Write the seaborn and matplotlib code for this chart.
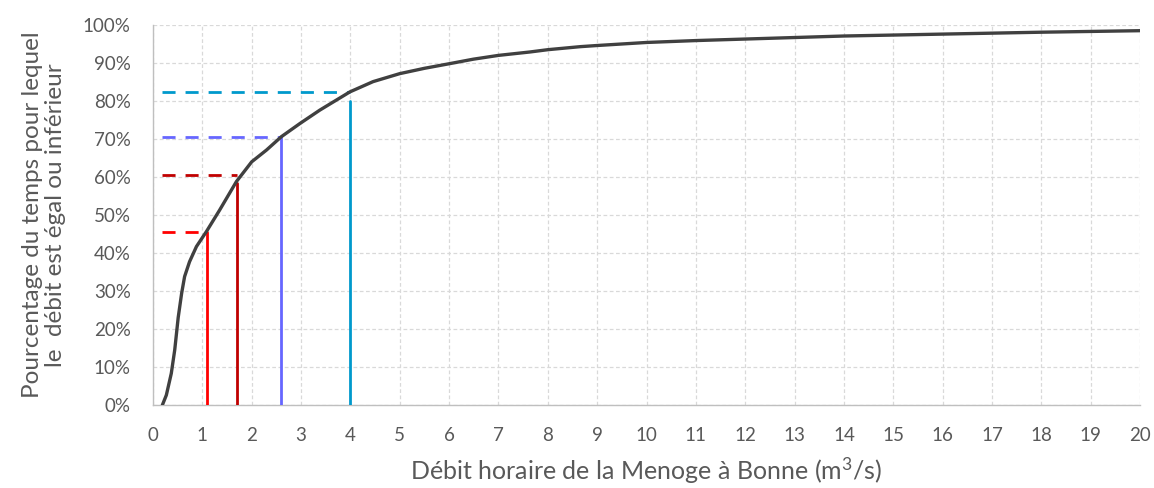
import matplotlib
matplotlib.use("Agg")
import matplotlib.pyplot as plt
import matplotlib.ticker as mticker
import numpy as np
import pandas as pd
import seaborn as sns

# Courbe des débits classés (débit en m³/s, pourcentage du temps)
debit = [0.19, 0.27, 0.37, 0.44, 0.51, 0.58, 0.64, 0.74, 0.88, 1.08, 1.35, 1.69,
         2.0, 2.30, 2.60, 2.98, 3.38, 3.99, 4.46, 5.0, 5.5, 6.0, 6.49, 7.0, 7.64,
         8.0, 8.66, 9.0, 10.0, 11.0, 12.0, 13.0, 14.0, 16.0, 18.0, 20.0]
pourcentage = [0.0, 2.6, 8.3, 14.5, 23.0, 29.4, 33.8, 37.7, 41.7, 45.6, 51.3, 58.8,
               64.0, 67.1, 70.6, 74.1, 77.6, 82.4, 85.1, 87.2, 88.6, 89.8, 91.0, 92.0, 92.9,
               93.5, 94.3, 94.6, 95.4, 95.9, 96.3, 96.7, 97.1, 97.6, 98.1, 98.5]

# Débits de référence avec leurs repères
repere_debit = [1.1, 1.7, 2.6, 4.0]
repere_pct_h = [45.6, 60.5, 70.5, 82.3]
repere_pct_v = [45.6, 58.5, 70.5, 80.0]
repere_couleur = ["#ff0000", "#c00000", "#6666ff", "#0099cc"]
debut_tirets = 0.18

x_ticks = list(range(0, 21))
y_ticks = list(range(0, 101, 10))

sns.set_theme(style="whitegrid")
plt.rcParams["font.family"] = ["Lato", "DejaVu Sans"]
plt.rcParams["mathtext.default"] = "regular"

fig = plt.figure(figsize=(11.54, 4.88), dpi=100)
ax = fig.add_axes([0.1326, 0.1701, 0.8553, 0.7787])

df = pd.DataFrame({"debit": debit, "pct": pourcentage})

for xd, yh, yv, c in zip(repere_debit, repere_pct_h, repere_pct_v, repere_couleur):
    ax.plot([debut_tirets, xd], [yh, yh], color=c, lw=2.0,
            dashes=(4.7, 3.6), solid_capstyle="butt", zorder=3)
    ax.plot([xd, xd], [0, yv], color=c, lw=2.0, zorder=3)

sns.lineplot(data=df, x="debit", y="pct", color="#404040", lw=2.4,
             ax=ax, zorder=4, sort=False)

ax.set_xlim(0, 20)
ax.set_ylim(0, 100)
ax.set_xticks(x_ticks)
ax.set_yticks(y_ticks)
ax.yaxis.set_major_formatter(mticker.FuncFormatter(lambda v, p: f"{v:.0f}%"))

ax.set_facecolor("white")
ax.grid(True, color="#d9d9d9", linestyle=(0, (3, 2)), linewidth=0.9)
for side in ["top", "right"]:
    ax.spines[side].set_visible(False)
for side in ["left", "bottom"]:
    ax.spines[side].set_visible(True)
    ax.spines[side].set_color("#bfbfbf")
    ax.spines[side].set_linewidth(1.0)

ax.tick_params(axis="both", which="major", width=1.0, color="#bfbfbf",
               labelcolor="#595959", labelsize=13.5, direction="out")
ax.tick_params(axis="x", length=5, pad=11)
ax.tick_params(axis="y", length=4, pad=12)

ax.set_xlabel("Débit horaire de la Menoge à Bonne (m$^{3}$/s)", fontsize=18,
              color="#595959", labelpad=8)
ax.set_ylabel("Pourcentage du temps pour lequel\nle  débit est égal ou inférieur",
              fontsize=17.5, color="#595959", labelpad=12, linespacing=1.15)

fig.savefig("out.png", dpi=100, facecolor="white")
